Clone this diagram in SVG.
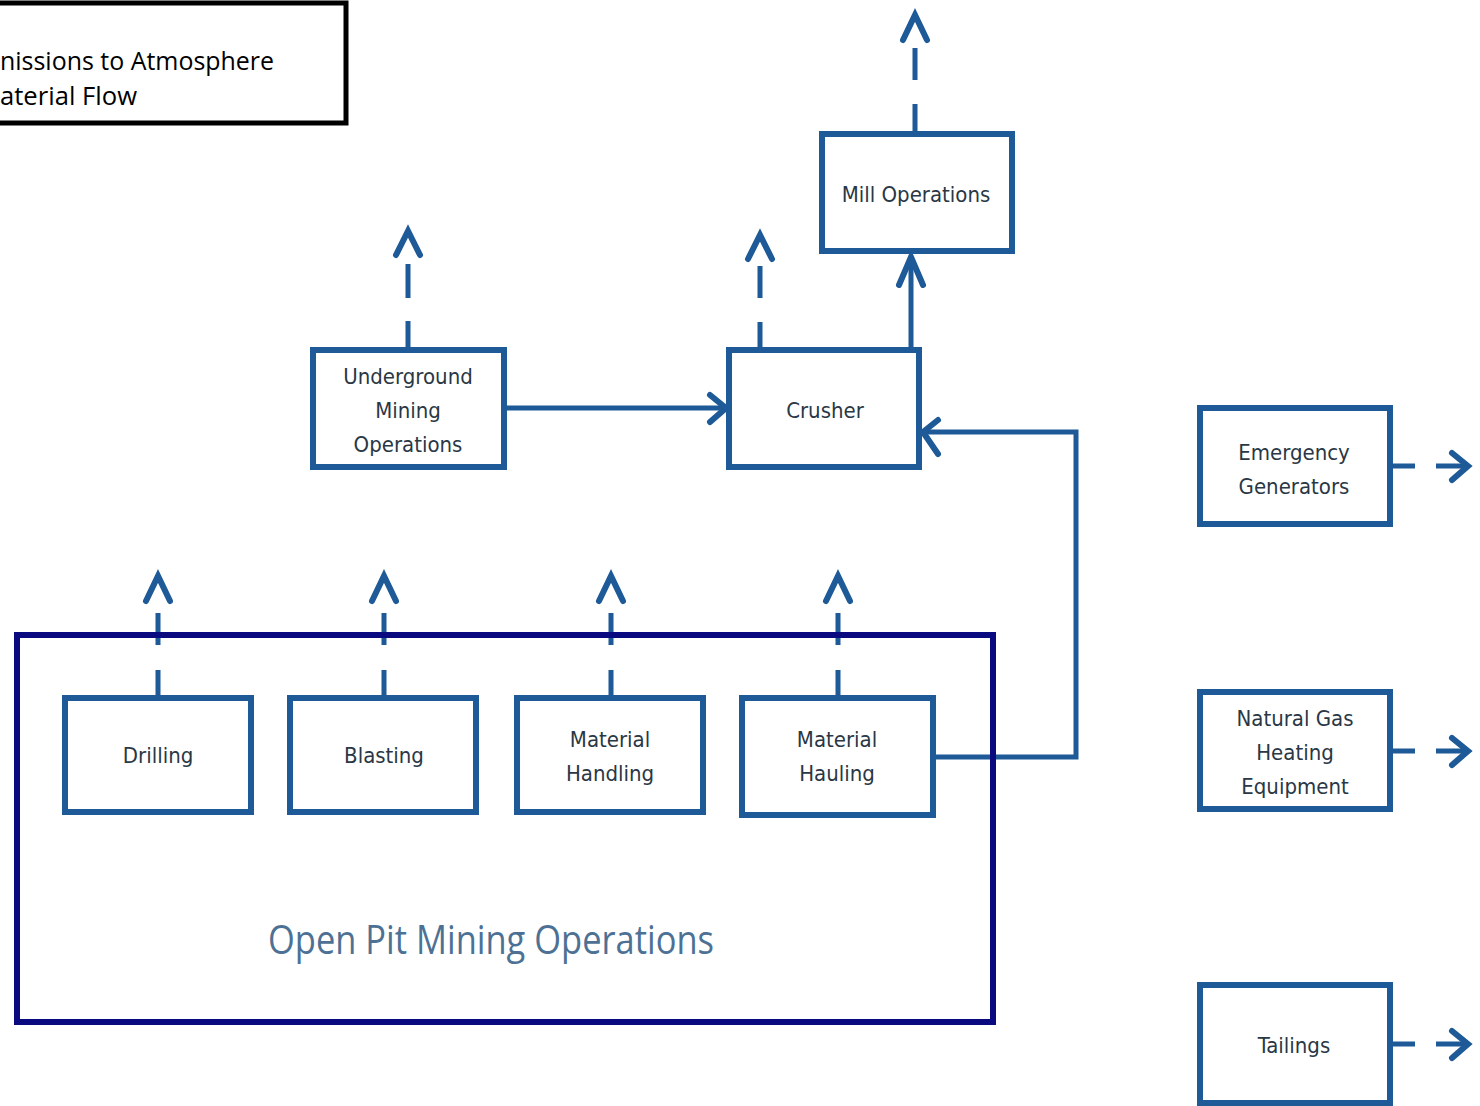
<svg xmlns="http://www.w3.org/2000/svg" width="1480" height="1106" viewBox="0 0 1480 1106">
<defs>
<style>
.box{fill:#ffffff;stroke:#1d5a97;stroke-width:6}
.lbl{font-family:"DejaVu Sans Condensed","DejaVu Sans",sans-serif;font-stretch:condensed;font-size:22px;fill:#2a3745;text-anchor:middle}
.solid{fill:none;stroke:#1d5a97;stroke-width:5}
.dash{fill:none;stroke:#1d5a97;stroke-width:5}
.head{fill:none;stroke:#1d5a97;stroke-width:6;stroke-linecap:round;stroke-linejoin:miter}
.leg{font-family:"Open Sans","Liberation Sans",sans-serif;font-size:25px;fill:#000}
</style>
</defs>
<rect width="1480" height="1106" fill="#ffffff"/>
<g id="legend">
<rect x="-10" y="3" width="356" height="120" fill="#ffffff" stroke="#000" stroke-width="5"/>
<text class="leg" x="0" y="70" textLength="274" lengthAdjust="spacingAndGlyphs">nissions to Atmosphere</text>
<text class="leg" x="0" y="105" textLength="137" lengthAdjust="spacingAndGlyphs">aterial Flow</text>
</g>
<g id="connectors">
<path class="dash" d="M158 698V670M158 645V613"/>
<polyline class="head" points="146,601 158,576 170,601"/>
<path class="dash" d="M384 698V670M384 645V613"/>
<polyline class="head" points="372,601 384,576 396,601"/>
<path class="dash" d="M611 698V670M611 645V613"/>
<polyline class="head" points="599,601 611,576 623,601"/>
<path class="dash" d="M838 698V670M838 645V613"/>
<polyline class="head" points="826,601 838,576 850,601"/>
<path class="dash" d="M408 350V321M408 298V264"/>
<polyline class="head" points="396,255 408,231 420,255"/>
<path class="dash" d="M760 350V322M760 298V266"/>
<polyline class="head" points="748,259 760,235 772,259"/>
<path class="dash" d="M915 134V104M915 80V48"/>
<polyline class="head" points="903,40 915,15 927,40"/>
<path class="dash" d="M1393 466H1415M1436 466H1466"/>
<polyline class="head" points="1452,453 1468,466 1452,480"/>
<path class="dash" d="M1393 751H1415M1436 751H1466"/>
<polyline class="head" points="1452,738 1468,751 1452,765"/>
<path class="dash" d="M1393 1044H1415M1436 1044H1466"/>
<polyline class="head" points="1452,1031 1468,1044 1452,1058"/>
<path class="solid" d="M504 408H724"/>
<polyline class="head" points="710,395 726,408 710,422"/>
<path class="solid" d="M911 350V256"/>
<polyline class="head" points="899,285 911,257 923,285"/>
<path class="solid" d="M933 757H1076V432H924"/>
<polyline class="head" points="938,420 923,432 938,454"/>
</g>
<g id="open-pit">
<rect x="17" y="635" width="976" height="387" fill="none" stroke="#0a0a80" stroke-width="6"/>
<text x="491" y="954" font-family="Open Sans, Liberation Sans, sans-serif" font-size="40" fill="#4d7194" text-anchor="middle" textLength="446" lengthAdjust="spacingAndGlyphs">Open Pit Mining Operations</text>
</g>
<g id="underground">
<rect class="box" x="313" y="350" width="191" height="117"/>
<text class="lbl" x="408" y="384">Underground</text>
<text class="lbl" x="408" y="418">Mining</text>
<text class="lbl" x="408" y="452">Operations</text>
</g>
<g id="crusher">
<rect class="box" x="729" y="350" width="190" height="117"/>
<text class="lbl" x="825" y="418">Crusher</text>
</g>
<g id="mill">
<rect class="box" x="822" y="134" width="190" height="117"/>
<text class="lbl" x="916" y="202">Mill Operations</text>
</g>
<g id="emergency">
<rect class="box" x="1200" y="408" width="190" height="116"/>
<text class="lbl" x="1294" y="460">Emergency</text>
<text class="lbl" x="1294" y="494">Generators</text>
</g>
<g id="natural-gas">
<rect class="box" x="1200" y="692" width="190" height="117"/>
<text class="lbl" x="1295" y="726">Natural Gas</text>
<text class="lbl" x="1295" y="760">Heating</text>
<text class="lbl" x="1295" y="794">Equipment</text>
</g>
<g id="tailings">
<rect class="box" x="1200" y="985" width="190" height="118"/>
<text class="lbl" x="1294" y="1053">Tailings</text>
</g>
<g id="drilling">
<rect class="box" x="65" y="698" width="186" height="114"/>
<text class="lbl" x="158" y="763">Drilling</text>
</g>
<g id="blasting">
<rect class="box" x="290" y="698" width="186" height="114"/>
<text class="lbl" x="384" y="763">Blasting</text>
</g>
<g id="material-handling">
<rect class="box" x="517" y="698" width="186" height="114"/>
<text class="lbl" x="610" y="747">Material</text>
<text class="lbl" x="610" y="781">Handling</text>
</g>
<g id="material-hauling">
<rect class="box" x="742" y="698" width="191" height="117"/>
<text class="lbl" x="837" y="747">Material</text>
<text class="lbl" x="837" y="781">Hauling</text>
</g>
</svg>
